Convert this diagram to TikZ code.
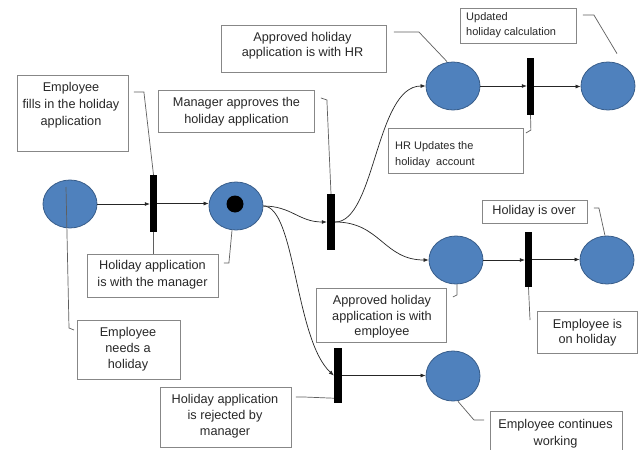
\documentclass[tikz,border=0pt]{standalone}
\usepackage{fontspec}
\setmainfont{Liberation Sans}
\usetikzlibrary{arrows.meta,shapes.geometric}
\definecolor{placefill}{RGB}{79,129,189}
\definecolor{placeedge}{RGB}{56,93,138}
\definecolor{boxedge}{RGB}{135,135,135}
\definecolor{noteline}{RGB}{95,95,95}
\definecolor{notetext}{RGB}{40,40,40}
\begin{document}
\begin{tikzpicture}[x=1pt,y=-1pt,
  place/.style={ellipse,draw=placeedge,fill=placefill,line width=0.8pt,
    minimum width=54pt,minimum height=48pt,inner sep=0pt},
  token/.style={circle,fill=black,minimum size=17pt,inner sep=0pt},
  trans/.style={rectangle,fill=black,minimum width=7pt,minimum height=56pt,inner sep=0pt},
  arc/.style={draw=black!85,line width=0.7pt,-{Latex[length=5pt,width=4pt]}},
  note/.style={rectangle,draw=boxedge,fill=white,line width=0.9pt,inner sep=0pt,anchor=north west},
  callout/.style={draw=noteline,line width=0.7pt},
  big/.style={font=\fontsize{12.7}{17}\selectfont,text=notetext,align=center,inner sep=0pt},
  small/.style={font=\fontsize{11}{15}\selectfont,text=notetext,align=left,inner sep=0pt,anchor=west},
]
\useasboundingbox (0,0) rectangle (638,450);
\clip (0,0) rectangle (638,450);
\fill[white] (0,0) rectangle (638,450);

% ---------- places ----------
\node[place] (p1) at (70,204) {};
\node[place] (p2) at (236,206) {};
\node[token] (tok) at ([xshift=-1pt,yshift=2pt]p2.center) {};
\node[place] (p3) at (453,86) {};
\node[place] (p4) at (608,86) {};
\node[place] (p5) at (456,260) {};
\node[place] (p6) at (607,260) {};
\node[place,minimum height=50pt] (p7) at (453,376) {};

% ---------- transitions ----------
\node[trans,minimum height=57pt] (t1) at (153.5,203.5) {};
\node[trans,minimum width=8pt] (t2) at (331,222) {};
\node[trans,minimum height=57pt] (t3) at (530.5,86.5) {};
\node[trans,minimum height=55pt] (t4) at (528.5,259.5) {};
\node[trans,minimum width=8pt,minimum height=55pt] (t5) at (338,375.5) {};

% ---------- arcs ----------
\draw[arc] (p1) -- (p1 -| t1.west);
\draw[arc] (t1.east) -- (t1.east -| p2.west);
\draw[arc] (p2.east) .. controls +(28,0) and +(-28,0) .. (t2.west);
\draw[arc] (t2.east) .. controls +(40,0) and +(-50,0) .. (p3.west);
\draw[arc] (t2.east) .. controls +(45,0) and +(-45,0) .. (p5.west);
\draw[arc] (p2.east) .. controls +(32,0) and +(-39,-36) .. (t5.west);
\draw[arc] (t5.east) -- (t5.east -| p7.west);
\draw[arc] (p3) -- (p3 -| t3.west);
\draw[arc] (t3.east) -- (t3.east -| p4.west);
\draw[arc] (p5) -- (p5 -| t4.west);
\draw[arc] (t4.east) -- (t4.east -| p6.west);

% ---------- note boxes ----------
\node[note,minimum width=111pt,minimum height=76pt] (b1) at (17,75) {};
\node[big] (b1t) at (71,105) {Employee\\fills in the holiday\\application};

\node[note,minimum width=131pt,minimum height=43pt] (b2) at (87,254) {};
\node[big] (b2t) at (152.5,275) {Holiday application\\is with the manager};

\node[note,minimum width=103pt,minimum height=59pt] (b3) at (77,320) {};
\node[big,font=\fontsize{12.7}{16}\selectfont] (b3t) at (128,349) {Employee\\needs a\\holiday};

\node[note,minimum width=131pt,minimum height=60pt] (b4) at (160,387) {};
\node[big,font=\fontsize{12.7}{16}\selectfont] (b4t) at (225,416) {Holiday application\\is rejected by\\manager};

\node[note,minimum width=156pt,minimum height=42pt] (b5) at (158,90) {};
\node[big] (b5t) at (236.5,111.5) {Manager approves the\\holiday application};

\node[note,minimum width=165pt,minimum height=47pt] (b6) at (221,25) {};
\node[big,font=\fontsize{12.7}{15.5}\selectfont] (b6t) at (302.5,45.5) {Approved holiday\\application is with HR};

\node[note,minimum width=135pt,minimum height=45pt] (b7) at (388,128) {};
\node[small,font=\fontsize{11}{16}\selectfont] (b7t) at (395,155) {HR Updates the\\holiday\ \ account};

\node[note,minimum width=116pt,minimum height=35pt] (b8) at (460,8) {};
\node[small] (b8t) at (466,25.5) {Updated\\holiday calculation};

\node[note,minimum width=105pt,minimum height=23pt] (b9) at (482,200) {};
\node[big] (b9t) at (534,211.5) {Holiday is over};

\node[note,minimum width=100pt,minimum height=42pt] (b10) at (537,311) {};
\node[big,font=\fontsize{12.7}{15.5}\selectfont] (b10t) at (587.5,332.5) {Employee is\\on holiday};

\node[note,minimum width=130pt,minimum height=54pt] (b11) at (316,288) {};
\node[big,font=\fontsize{12.7}{15.5}\selectfont] (b11t) at (382,317) {Approved holiday\\application is with\\employee};

\node[note,minimum width=132pt,minimum height=50pt] (b12) at (490,411) {};
\node[big] (b12t) at (555.5,433.5) {Employee continues\\working};

% ---------- callout lines ----------
\coordinate (p1tip) at (66,187);
\draw[callout] (b1.north east) ++(5,17) -- ++(10,0) -- (t1.north);
\draw[callout] (t1.south) -- (t1.south |- b2.north);
\draw[callout] (b2.north east) ++(5,9) -- ++(5,0) -- ([xshift=-4pt]p2.south);
\draw[callout] (b3.north west) ++(-3,10) -- ++(-5,-2) -- (p1tip);
\draw[callout] (b4.north east) ++(4,10) -- ++(8,0) -- ([yshift=5pt]t5.south west);
\draw[callout] (b5.north east) ++(6,8) -- ++(6,2) -- (t2.north);
\draw[callout] (b6.north east) ++(7,7) -- ++(25,0) -- ([xshift=-6pt]p3.north);
\draw[callout] (b7.north east) ++(2,5) -- ++(5,-3) -- (t3.south);
\draw[callout] (b8.north east) ++(6,7) -- ++(11,0) -- ([xshift=9pt,yshift=8pt]p4.north);
\draw[callout] (b9.north east) ++(6,8) -- ++(5,0) -- ([xshift=-2pt]p6.north);
\draw[callout] (b10.north west) ++(-7,9) -- (t4.south);
\draw[callout] (b11.north east) ++(6,9) -- ++(4,-2) -- ([xshift=1pt]p5.south);
\draw[callout] (b12.north west) ++(-6,9) -- ++(-10,0) -- ([xshift=5pt]p7.south);
\end{tikzpicture}
\end{document}
